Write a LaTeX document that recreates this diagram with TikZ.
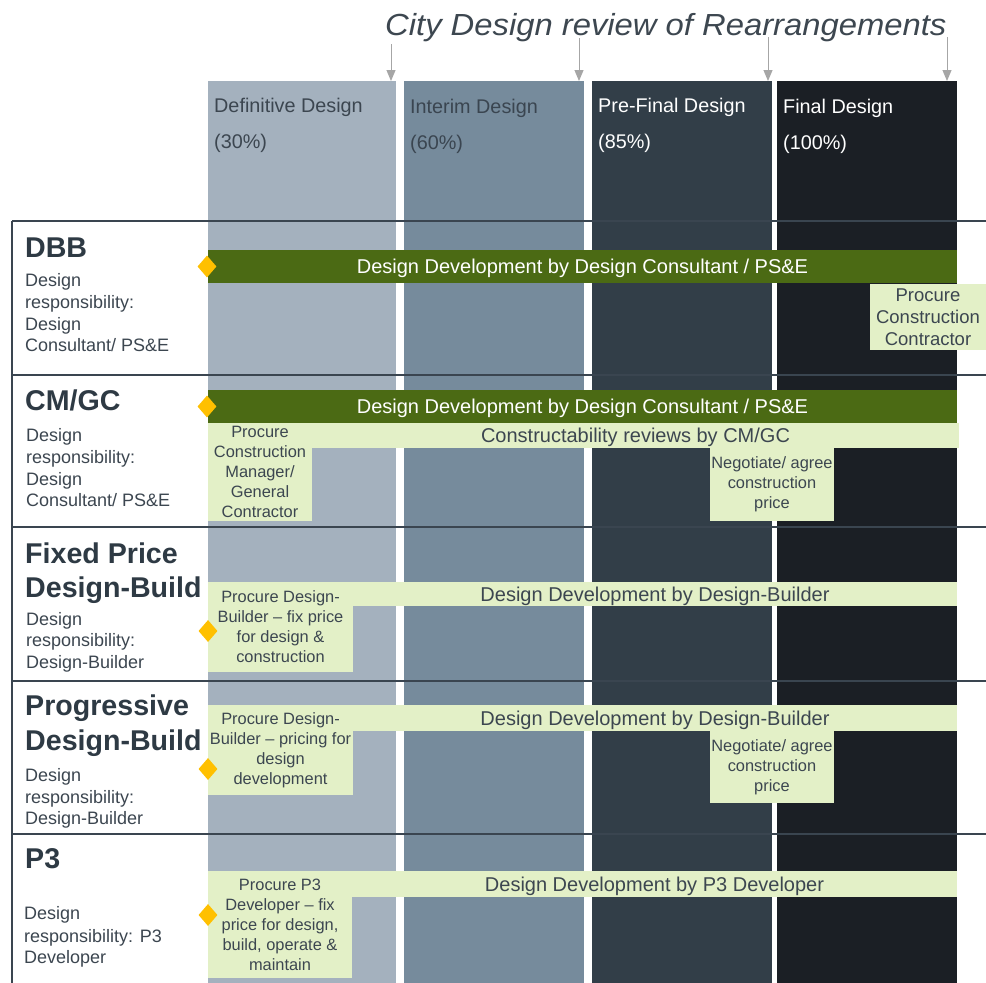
\documentclass[tikz,border=0pt]{standalone}
\usepackage{fontspec}
\usepackage{graphicx}
\setmainfont{Liberation Sans}
\usetikzlibrary{shapes.geometric,arrows.meta}
\definecolor{cA}{HTML}{A4B1BE}
\definecolor{cB}{HTML}{768B9C}
\definecolor{cC}{HTML}{323E48}
\definecolor{cD}{HTML}{1B1F25}
\definecolor{dgreen}{HTML}{4B6A14}
\definecolor{lgreen}{HTML}{E3F0C7}
\definecolor{ink}{HTML}{3C4650}
\definecolor{headink}{HTML}{2E3A44}
\definecolor{rulecol}{HTML}{3A4550}
\definecolor{gold}{HTML}{FFC000}
\definecolor{arrowgray}{HTML}{A6A6A6}
\definecolor{titleink}{HTML}{3D4750}
\tikzset{
  darkbar/.style={fill=dgreen, text=white, font=\fontsize{20}{24}\selectfont, inner sep=0, outer sep=0, text depth=0pt},
  litebar/.style={fill=lgreen, text=ink, font=\fontsize{20}{24}\selectfont, inner sep=0, outer sep=0, text depth=0pt},
  procbox/.style={fill=lgreen, text=ink, align=center, font=\fontsize{16.4}{20}\selectfont, inner sep=0, outer sep=0},
  bigbox/.style={procbox, font=\fontsize{18.5}{22}\selectfont},
  gem/.style={diamond, fill=gold, minimum width=19, minimum height=22, inner sep=0},
  rowhead/.style={anchor=base west, text=headink, font=\bfseries\fontsize{28.6}{34}\selectfont, inner sep=0},
  rowtext/.style={anchor=base west, text=ink, font=\fontsize{18}{21.5}\selectfont, inner sep=0},
  colhead/.style={anchor=base west, font=\fontsize{19.8}{23}\selectfont, inner sep=0},
  review/.style={draw=arrowgray, line width=1pt, -{Triangle[width=9pt,length=11pt]}},
  rowrule/.style={draw=rulecol, line width=1.5pt}
}
\begin{document}
\begin{tikzpicture}[x=1pt,y=-1pt]
\path[use as bounding box, fill=white] (0,0) rectangle (986,983);
% phase columns
\fill[cA] (208,81) rectangle (396,983);
\fill[cB] (404,81) rectangle (584,983);
\fill[cC] (592,81) rectangle (772,983);
\fill[cD] (777,81) rectangle (957,983);
% rules
\draw[rowrule] (12,221) -- (986,221);
\draw[rowrule] (12,375) -- (986,375);
\draw[rowrule] (12,527) -- (986,527);
\draw[rowrule] (12,681) -- (986,681);
\draw[rowrule] (12,834) -- (986,834);
\draw[rowrule] (12,221) -- (12,983);
% title and review arrows
\node[anchor=base west, inner sep=0, text=titleink, font=\itshape\fontsize{30.5}{36}\selectfont] (title) at (385,35) {\scalebox{1.075}[1]{City Design review of Rearrangements}};
\coordinate (a1s) at (391,44); \coordinate (a1e) at (391,81);
\coordinate (a2s) at (579,38); \coordinate (a2e) at (579,81);
\coordinate (a3s) at (768,37); \coordinate (a3e) at (768,81);
\coordinate (a4s) at (947,37); \coordinate (a4e) at (947,81);
\draw[review] (a1s) -- (a1e);
\draw[review] (a2s) -- (a2e);
\draw[review] (a3s) -- (a3e);
\draw[review] (a4s) -- (a4e);
% column headers
\node[colhead, text=ink] (h1a) at (214,112) {Definitive Design};
\node[colhead, text=ink] (h1b) at (214,148) {(30\%)};
\node[colhead, text=rulecol] (h2a) at (410,113) {Interim Design};
\node[colhead, text=rulecol] (h2b) at (410,149) {(60\%)};
\node[colhead, text=white] (h3a) at (598,112) {Pre-Final Design};
\node[colhead, text=white] (h3b) at (598,148) {(85\%)};
\node[colhead, text=white] (h4a) at (783,113) {Final Design};
\node[colhead, text=white] (h4b) at (783,149) {(100\%)};
% DBB
\node[darkbar, minimum width=749, minimum height=33] (dbbbar) at (582.5,266.5) {Design Development by Design Consultant / PS\&E};
\node[bigbox, minimum width=116, minimum height=66] (dbbproc) at (928,317) {Procure\\Construction\\Contractor};
\node[gem] (dbbgem) at (207,266.5) {};
% CM/GC
\node[darkbar, minimum width=749, minimum height=33] (cmbar) at (582.5,406.5) {Design Development by Design Consultant / PS\&E};
\node[litebar, minimum width=647, minimum height=25] (cmrev) at (635.5,435.5) {Constructability reviews by CM/GC};
\node[procbox, minimum width=104, minimum height=98] (cmproc) at (260,472) {Procure\\Construction\\Manager/\\General\\Contractor};
\node[procbox, minimum width=124, minimum height=73] (cmneg) at (772,484.5) {Negotiate/ agree\\construction\\price};
\node[gem] (cmgem) at (207,406.5) {};
% Fixed price DB
\node[litebar, minimum width=604, minimum height=24] (fpbar) at (655,594) {Design Development by Design-Builder};
\node[procbox, minimum width=145, minimum height=90] (fpproc) at (280.5,627) {Procure Design-\\Builder – fix price\\for design \&\\construction};
\node[gem] (fpgem) at (208,631) {};
% Progressive DB
\node[litebar, minimum width=604, minimum height=26] (pdbar) at (655,718) {Design Development by Design-Builder};
\node[procbox, minimum width=145, minimum height=90] (pdproc) at (280.5,750) {Procure Design-\\Builder – pricing for\\design\\development};
\node[procbox, minimum width=124, minimum height=72] (pdneg) at (772,767) {Negotiate/ agree\\construction\\price};
\node[gem] (pdgem) at (208,769) {};
% P3
\node[litebar, minimum width=605, minimum height=26] (p3bar) at (654.5,884) {Design Development by P3 Developer};
\node[procbox, minimum width=144, minimum height=107] (p3proc) at (280,924.5) {Procure P3\\Developer – fix\\price for design,\\build, operate \&\\maintain};
\node[gem] (p3gem) at (208,915) {};
% row labels
\node[rowhead] (dbbh) at (25,257) {DBB};
\node[rowtext] (dbbt1) at (25,286) {Design};
\node[rowtext] (dbbt2) at (25,308) {responsibility:};
\node[rowtext] (dbbt3) at (25,330) {Design};
\node[rowtext] (dbbt4) at (25,351) {Consultant/ PS\&E};
\node[rowhead] (cmh) at (25,410) {CM/GC};
\node[rowtext] (cmt1) at (26,441) {Design};
\node[rowtext] (cmt2) at (26,463) {responsibility:};
\node[rowtext] (cmt3) at (26,485) {Design};
\node[rowtext] (cmt4) at (26,506) {Consultant/ PS\&E};
\node[rowhead] (fph1) at (25,563) {Fixed Price};
\node[rowhead] (fph2) at (25,597) {Design-Build};
\node[rowtext] (fpt1) at (26,625) {Design};
\node[rowtext] (fpt2) at (26,646) {responsibility:};
\node[rowtext] (fpt3) at (26,668) {Design-Builder};
\node[rowhead] (pdh1) at (25,715) {Progressive};
\node[rowhead] (pdh2) at (25,750) {Design-Build};
\node[rowtext] (pdt1) at (25,781) {Design};
\node[rowtext] (pdt2) at (25,803) {responsibility:};
\node[rowtext] (pdt3) at (25,824) {Design-Builder};
\node[rowhead] (p3h) at (25,868) {P3};
\node[rowtext] (p3t1) at (24,919) {Design};
\node[rowtext] (p3t2) at (24,942) {responsibility: P3};
\node[rowtext] (p3t3) at (24,963) {Developer};
\end{tikzpicture}
\end{document}
